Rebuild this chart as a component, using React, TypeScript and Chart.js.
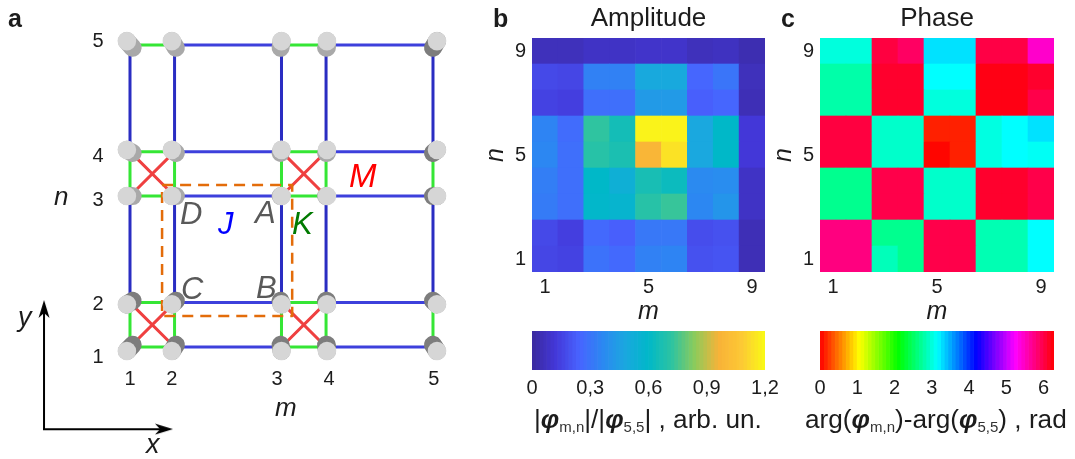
import React, { useEffect, useRef } from "react";
import { Chart, registerables } from "chart.js";

Chart.register(...registerables);

const FONT = "'Liberation Sans', Arial, sans-serif";
Chart.defaults.font.family = FONT;
Chart.defaults.color = "#1c1c1c";

/* ---------- panel a: lattice, in units of the short link ---------- */
const siteLabels = ["1", "2", "3", "4", "5"];
const siteX = [0, 1, 3.4, 4.4, 6.8];
const siteY = [0, 1, 3.4, 4.4, 6.8];
const discX = [-0.07, 0.94, 3.4, 4.42, 6.89];
const discY = [-0.09, 0.96, 3.4, 4.44, 6.89];
const baseX = [0.06, 1.03, 3.38, 4.4, 6.8];
const baseY = [0.05, 1.04, 3.4, 4.37, 6.74];
const tickX = [0, 0.94, 3.3, 4.47, 6.82];
const tickY = [-0.23, 0.95, 3.31, 4.28, 6.87];
const shortPairs = [[0, 1], [2, 3]];
const longPairs = [[1, 2], [3, 4]];
const crossCellsX = [[0, 1], [2, 3]];
const crossCellsY = [[0, 1], [2, 3]];
const cellCornersX = [0.72, 3.64];
const cellCornersY = [0.7, 3.65];
const axisOrigin = [-1.93, -1.85];
const axisTipX = 0.763;
const axisTipY = 0.856;

/* ---------- panel b: amplitude, rows n = 1..9, columns m = 1..9 ---------- */
const ampRow1 = [0.16, 0.15, 0.29, 0.26, 0.34, 0.35, 0.19, 0.2, 0.05];
const ampRow2 = [0.17, 0.14, 0.26, 0.23, 0.31, 0.31, 0.18, 0.19, 0.05];
const ampRow3 = [0.32, 0.28, 0.59, 0.57, 0.7, 0.73, 0.36, 0.41, 0.08];
const ampRow4 = [0.33, 0.28, 0.6, 0.53, 0.66, 0.63, 0.37, 0.38, 0.08];
const ampRow5 = [0.36, 0.28, 0.7, 0.67, 0.98, 1.14, 0.48, 0.6, 0.12];
const ampRow6 = [0.35, 0.27, 0.72, 0.65, 1.18, 1.18, 0.48, 0.6, 0.12];
const ampRow7 = [0.15, 0.14, 0.28, 0.28, 0.43, 0.43, 0.23, 0.25, 0.05];
const ampRow8 = [0.17, 0.16, 0.34, 0.34, 0.49, 0.49, 0.25, 0.3, 0.06];
const ampRow9 = [0.06, 0.06, 0.08, 0.08, 0.09, 0.09, 0.06, 0.07, 0.04];
const ampRows = [ampRow1, ampRow2, ampRow3, ampRow4, ampRow5, ampRow6, ampRow7, ampRow8, ampRow9];

/* ---------- panel c: phase in rad ---------- */
const phaseRow1 = [5.76, 5.76, 2.86, 2.68, 5.98, 5.98, 2.83, 2.83, 3.14];
const phaseRow2 = [5.76, 5.76, 2.68, 2.68, 5.98, 5.98, 2.83, 2.83, 3.14];
const phaseRow3 = [2.68, 2.68, 5.98, 5.98, 2.93, 2.93, 6.1, 6.1, 5.98];
const phaseRow4 = [2.68, 2.68, 5.98, 5.98, 2.93, 2.93, 6.1, 6.1, 5.98];
const phaseRow5 = [6.02, 6.02, 2.93, 2.93, 0.02, 0.13, 3.02, 3.14, 3.1];
const phaseRow6 = [6.02, 6.02, 2.93, 2.93, 0.13, 0.13, 3.02, 3.14, 3.26];
const phaseRow7 = [2.79, 2.79, 6.1, 6.1, 3.0, 3.0, 6.2, 6.2, 5.98];
const phaseRow8 = [2.79, 2.79, 6.1, 6.1, 3.14, 3.14, 6.2, 6.2, 6.1];
const phaseRow9 = [3.0, 3.0, 6.02, 5.88, 3.26, 3.26, 6.0, 6.0, 5.45];
const phaseRows = [phaseRow1, phaseRow2, phaseRow3, phaseRow4, phaseRow5, phaseRow6, phaseRow7, phaseRow8, phaseRow9];

const cellLabels = ["1", "2", "3", "4", "5", "6", "7", "8", "9"];
const shownCells = [1, 5, 9];
const ampTicks = [0, 0.3, 0.6, 0.9, 1.2];
const phaseTicks = [0, 1, 2, 3, 4, 5, 6];
const AMP_MAX = 1.2;
const PHASE_MAX = 2 * Math.PI;
const LEVELS = 64;

const parulaStops = ["#3a2a9e", "#4337d8", "#4863ff", "#2c87f2", "#1aa8df", "#00b8c8", "#2fc4a0", "#8ecb5a", "#f8b238", "#fdc934", "#f9fb15"];

function parula(t: number) {
  const p = Math.max(0, Math.min(1, t)) * (parulaStops.length - 1);
  const i = Math.min(parulaStops.length - 2, Math.floor(p));
  const f = p - i;
  const rgb = (h: string) => [1, 3, 5].map((k) => parseInt(h.slice(k, k + 2), 16));
  const a = rgb(parulaStops[i]);
  const b = rgb(parulaStops[i + 1]);
  return `rgb(${a.map((v, k) => Math.round(v + (b[k] - v) * f)).join(",")})`;
}
const ampColor = (v: number) => parula(v / AMP_MAX);
const phaseColor = (v: number) => `hsl(${(v / PHASE_MAX) * 360},100%,50%)`;

const noGrid = { display: false, drawTicks: false };
const noBorder = { display: false };
const baseOptions = {
  animation: false as const,
  responsive: false,
  devicePixelRatio: 1,
  events: [] as string[],
};

function latticeConfig() {
  const links = (horizontalPairs: number[][], verticalPairs: number[][]) => {
    const out: any[] = [];
    const gap = { x: NaN, y: NaN };
    siteY.forEach((y) => horizontalPairs.forEach(([a, b]) => out.push({ x: siteX[a], y }, { x: siteX[b], y }, gap)));
    siteX.forEach((x) => verticalPairs.forEach(([a, b]) => out.push({ x, y: siteY[a] }, { x, y: siteY[b] }, gap)));
    return out;
  };
  const crosses: any[] = [];
  crossCellsX.forEach(([l, r]) =>
    crossCellsY.forEach(([b, t]) => {
      crosses.push({ x: siteX[l], y: siteY[t] }, { x: siteX[r], y: siteY[b] }, { x: NaN, y: NaN });
      crosses.push({ x: siteX[l], y: siteY[b] }, { x: siteX[r], y: siteY[t] }, { x: NaN, y: NaN });
    })
  );
  const discs: any[] = [];
  const litSides: any[] = [];
  const darkSides: any[] = [];
  siteX.forEach((_x, i) =>
    siteY.forEach((_y, j) => {
      discs.push({ x: discX[i], y: discY[j] });
      const target = j <= 1 || i === 4 ? darkSides : litSides;
      target.push({ x: baseX[i], y: baseY[j] }, { x: discX[i], y: discY[j] }, { x: NaN, y: NaN });
    })
  );
  const [l, r] = cellCornersX;
  const [b, t] = cellCornersY;
  const line = { showLine: true, pointRadius: 0, clip: false, tension: 0, borderJoinStyle: "round" };
  return {
    type: "scatter",
    data: {
      datasets: [
        { label: "sites", data: discs, pointRadius: 9.3, pointBackgroundColor: "#d6d6d6", pointBorderWidth: 0, showLine: false, clip: false },
        { label: "site sides, lit", data: litSides, ...line, borderColor: "#a9a9a9", borderWidth: 18, borderCapStyle: "round" },
        { label: "site sides, shaded", data: darkSides, ...line, borderColor: "#7d7d7d", borderWidth: 18, borderCapStyle: "round" },
        {
          label: "unit cell",
          data: [{ x: l, y: t }, { x: r, y: t }, { x: r, y: b }, { x: l, y: b }, { x: l, y: t }],
          ...line,
          borderColor: "#e36c0a",
          borderWidth: 2.5,
          borderDash: [11, 7],
        },
        { label: "M", data: crosses, ...line, borderColor: "#ef4040", borderWidth: 3 },
        { label: "K", data: links(shortPairs, shortPairs), ...line, borderColor: "#35e635", borderWidth: 3 },
        { label: "J horizontal", data: links(longPairs, []), ...line, borderColor: "#3d40dc", borderWidth: 3 },
        { label: "J vertical", data: links([], longPairs), ...line, borderColor: "#2a2dc2", borderWidth: 3 },
      ],
    },
    options: {
      ...baseOptions,
      layout: { padding: { left: 67.72, right: 58.1, top: 36.2, bottom: 49.8 } },
      plugins: { legend: { display: false }, tooltip: { enabled: false } },
      scales: {
        x: {
          type: "linear",
          min: -0.5,
          max: 7,
          grid: noGrid,
          border: noBorder,
          afterFit: (s: any) => { s.height = 40; },
          afterBuildTicks: (s: any) => { s.ticks = tickX.map((value) => ({ value })); },
          ticks: { font: { size: 20 }, padding: -2, maxRotation: 0, autoSkip: false, callback: (_v: any, i: number) => siteLabels[i] },
        },
        y: {
          type: "linear",
          min: -0.5,
          max: 7,
          grid: noGrid,
          border: noBorder,
          afterFit: (s: any) => { s.width = 40; },
          afterBuildTicks: (s: any) => { s.ticks = tickY.map((value) => ({ value })); },
          ticks: { font: { size: 20 }, padding: 4, autoSkip: false, callback: (_v: any, i: number) => siteLabels[i] },
        },
      },
    },
  };
}

function arrowHead() {
  const c = document.createElement("canvas");
  c.width = 12;
  c.height = 18;
  const ctx = c.getContext("2d") as CanvasRenderingContext2D;
  ctx.fillStyle = "#000";
  ctx.beginPath();
  ctx.moveTo(6, 0);
  ctx.lineTo(11.5, 18);
  ctx.lineTo(6, 13);
  ctx.lineTo(0.5, 18);
  ctx.closePath();
  ctx.fill();
  return c;
}

function axesConfig() {
  return {
    type: "scatter",
    data: {
      datasets: [
        {
          label: "axes",
          data: [
            { x: axisTipX, y: axisOrigin[1] },
            { x: axisOrigin[0], y: axisOrigin[1] },
            { x: axisOrigin[0], y: axisTipY },
          ],
          showLine: true,
          clip: false,
          tension: 0,
          borderColor: "#000",
          borderWidth: 2,
          pointStyle: arrowHead(),
          pointBorderWidth: 0,
          pointRadius: [9, 0, 9],
          pointRotation: [90, 0, 0],
        },
      ],
    },
    options: {
      ...baseOptions,
      layout: { padding: { left: 32, right: 316.53, top: 293.7, bottom: 18.76 } },
      plugins: { legend: { display: false }, tooltip: { enabled: false } },
      scales: {
        x: { type: "linear", min: -2.2, max: 1.2, display: false },
        y: { type: "linear", min: -2.1, max: 1.2, display: false },
      },
    },
  };
}

function heatConfig(rows: number[][], color: (v: number) => string, title: string) {
  return {
    type: "bar",
    data: {
      labels: cellLabels,
      datasets: rows.map((row, j) => ({
        label: `n=${j + 1}`,
        data: row.map(() => [j + 0.5, j + 1.5]),
        backgroundColor: row.map(color),
        grouped: false,
        barPercentage: 1,
        categoryPercentage: 1,
      })),
    },
    options: {
      ...baseOptions,
      layout: { padding: { left: 0, right: 10, top: 0, bottom: 0 } },
      plugins: {
        legend: { display: false },
        tooltip: { enabled: false },
        title: { display: true, text: title, fullSize: false, color: "#1c1c1c", font: { size: 26, weight: "normal" }, lineHeight: 1.2, padding: { top: 3, bottom: 3.8 } },
      },
      scales: {
        x: {
          type: "category",
          grid: noGrid,
          border: noBorder,
          afterFit: (s: any) => { s.height = 60; },
          title: { display: true, text: "m", color: "#1c1c1c", font: { size: 25, style: "italic" }, padding: { top: 0, bottom: 5 } },
          ticks: {
            font: { size: 20 },
            padding: 3,
            maxRotation: 0,
            autoSkip: false,
            callback: (_v: any, i: number) => (shownCells.includes(i + 1) ? cellLabels[i] : ""),
          },
        },
        y: {
          type: "linear",
          min: 0.5,
          max: 9.5,
          grid: noGrid,
          border: noBorder,
          afterFit: (s: any) => { s.width = 56; },
          afterBuildTicks: (s: any) => { s.ticks = shownCells.map((value) => ({ value })); },
          title: { display: true, text: "n", color: "#1c1c1c", font: { size: 25, style: "italic" }, padding: { top: 5, bottom: 0 } },
          ticks: { font: { size: 20 }, padding: 6, autoSkip: false },
        },
      },
    },
  };
}

function barConfig(max: number, color: (v: number) => string, ticks: number[], fmt: (v: number) => string) {
  const datasets = Array.from({ length: LEVELS }, (_, i) => {
    const lo = (i / LEVELS) * max;
    const hi = ((i + 1) / LEVELS) * max;
    return {
      label: `level ${i + 1}`,
      data: [[lo, hi]],
      backgroundColor: color((lo + hi) / 2),
      grouped: false,
      barPercentage: 1,
      categoryPercentage: 1,
    };
  });
  return {
    type: "bar",
    data: { labels: [""], datasets },
    options: {
      ...baseOptions,
      indexAxis: "y",
      layout: { padding: { left: 32, right: 21, top: 10, bottom: 0 } },
      plugins: { legend: { display: false }, tooltip: { enabled: false } },
      scales: {
        x: {
          type: "linear",
          min: 0,
          max,
          grid: noGrid,
          border: noBorder,
          afterFit: (s: any) => { s.height = 40; },
          afterBuildTicks: (s: any) => { s.ticks = ticks.map((value) => ({ value })); },
          ticks: { font: { size: 20 }, padding: 6, maxRotation: 0, autoSkip: false, callback: (v: number) => fmt(v) },
        },
        y: { type: "category", display: false },
      },
    },
  };
}

function Plot({ config, left, top, width, height }: any) {
  const ref = useRef<HTMLCanvasElement>(null);
  useEffect(() => {
    const chart = new Chart(ref.current as any, config());
    return () => chart.destroy();
  }, []);
  return <canvas ref={ref} width={width} height={height} style={{ position: "absolute", left, top, width, height, display: "block" }} />;
}

function Label({ x, base, size, color = "#1c1c1c", italic, bold, children }: any) {
  return (
    <div
      style={{
        position: "absolute",
        left: x,
        top: base - 0.8465 * size,
        fontFamily: FONT,
        fontSize: size,
        lineHeight: 1,
        color,
        fontStyle: italic ? "italic" : "normal",
        fontWeight: bold ? "bold" : "normal",
        whiteSpace: "nowrap",
      }}
    >
      {children}
    </div>
  );
}

const Phi = () => <span style={{ fontStyle: "italic", fontWeight: "bold" }}>φ</span>;
const Sub = ({ children }: any) => (
  <span style={{ fontSize: 15, position: "relative", top: 4, color: "#333" }}>{children}</span>
);

export default function App() {
  return (
    <div style={{ position: "absolute", left: 0, top: 0, width: 1075, height: 459, overflow: "hidden", background: "#fff" }}>
      <Plot config={axesConfig} left={0} top={0} width={500} height={459} />
      <Plot config={latticeConfig} left={0} top={0} width={500} height={459} />
      <Plot config={() => heatConfig(ampRows, ampColor, "Amplitude")} left={476} top={0} width={299} height={332} />
      <Plot config={() => heatConfig(phaseRows, phaseColor, "Phase")} left={764} top={0} width={300} height={332} />
      <Plot config={() => barConfig(AMP_MAX, ampColor, ampTicks, (v) => (v === 0 ? "0" : v.toFixed(1).replace(".", ",")))} left={500} top={321} width={286} height={89} />
      <Plot config={() => barConfig(PHASE_MAX, phaseColor, phaseTicks, (v) => String(v))} left={788} top={321} width={287} height={89} />

      <Label x={8} base={27} size={25} bold>a</Label>
      <Label x={493} base={27} size={25} bold>b</Label>
      <Label x={781} base={27} size={25} bold>c</Label>

      <Label x={54} base={205} size={26} italic>n</Label>
      <Label x={275} base={416} size={26} italic>m</Label>
      <Label x={18} base={327} size={27} italic>y</Label>
      <Label x={146} base={454} size={27} italic>x</Label>

      <Label x={180} base={224} size={31} color="#595959" italic>D</Label>
      <Label x={255} base={223} size={31} color="#595959" italic>A</Label>
      <Label x={181} base={299} size={31} color="#595959" italic>C</Label>
      <Label x={256} base={298} size={31} color="#595959" italic>B</Label>
      <Label x={218} base={234} size={31} color="#0000ff" italic>J</Label>
      <Label x={292} base={234} size={31} color="#007a00" italic>K</Label>
      <Label x={349} base={187} size={33} color="#ff0000" italic>M</Label>

      <Label x={534} base={428} size={26.2}>
        |<Phi /><Sub>m,n</Sub>|/|<Phi /><Sub>5,5</Sub>| , arb. un.
      </Label>
      <Label x={805} base={428} size={26.2}>
        arg(<Phi /><Sub>m,n</Sub>)-arg(<Phi /><Sub>5,5</Sub>) , rad
      </Label>
    </div>
  );
}
